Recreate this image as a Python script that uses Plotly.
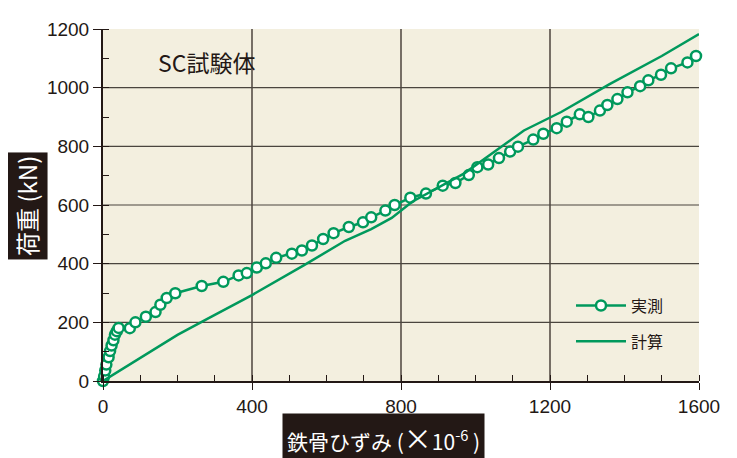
import plotly.graph_objects as go

# ---- data ----
meas_x = [0, 3, 6, 9, 15, 19, 23, 28, 32, 37, 42, 72, 87, 115, 141, 154, 171, 194, 265, 323,
          364, 386, 413, 437, 465, 507, 534, 561, 591, 619, 660, 698, 720, 758, 783, 825,
          867, 912, 946, 982, 1005, 1034, 1063, 1093, 1114, 1155, 1182, 1218, 1245, 1280,
          1303, 1334, 1354, 1381, 1408, 1442, 1464, 1498, 1525, 1569, 1592]
meas_y = [0, 16, 36, 56, 81, 102, 121, 139, 158, 170, 181, 180, 200, 219, 235, 260, 283, 299, 324, 338,
          360, 368, 387, 401, 420, 434, 445, 462, 484, 504, 525, 541, 558, 581, 600, 625,
          639, 666, 675, 702, 729, 738, 760, 782, 799, 823, 843, 862, 884, 909,
          900, 922, 941, 961, 984, 1005, 1025, 1044, 1066, 1086, 1108]

calc_x = [0, 200, 280, 400, 540, 650, 720, 775, 830, 900, 970, 1060, 1130, 1230, 1360, 1500, 1600]
calc_y = [0, 157, 212, 293, 395, 478, 518, 556, 611, 660, 708, 790, 854, 917, 1012, 1108, 1183]

x_ticks = [0, 400, 800, 1200, 1600]
y_ticks = [0, 200, 400, 600, 800, 1000, 1200]
x_grid = [400, 800, 1200]
y_grid = [200, 400, 600, 800, 1000]

GREEN = "#00995c"
DARK = "#231815"
BG = "#f3efdf"
NUM_FONT = "Liberation Sans, Arial, sans-serif"
JP_FONT = "Noto Sans CJK JP, sans-serif"

# page body has an 8px margin; compensate so the plot lands where the reference has it
PW, PH = 596, 362

fig = go.Figure()
fig.add_trace(go.Scatter(
    x=meas_x, y=meas_y, name="実測", mode="lines+markers",
    line=dict(color=GREEN, width=2.5),
    marker=dict(symbol="circle", size=10, color="white", line=dict(color=GREEN, width=2.5)),
    cliponaxis=False, legendgroup="a"))
fig.add_trace(go.Scatter(
    x=calc_x, y=calc_y, name="計算", mode="lines",
    line=dict(color=GREEN, width=2.5), legendgroup="b"))

shapes = []
for gx in x_grid:
    shapes.append(dict(type="line", xref="x", yref="paper", x0=gx, x1=gx, y0=0, y1=1,
                       line=dict(color=DARK, width=1.2), layer="below"))
for gy in y_grid:
    shapes.append(dict(type="line", xref="paper", yref="y", x0=0, x1=1, y0=gy, y1=gy,
                       line=dict(color="#4a453e", width=1.2), layer="below"))

fig.update_layout(
    width=729, height=450,
    margin=dict(l=95, r=38, t=11, b=77),
    paper_bgcolor="white", plot_bgcolor=BG,
    shapes=shapes,
    showlegend=True,
    legend=dict(x=(571-103)/PW, y=(381-286)/PH, xanchor="left", yanchor="top",
                bgcolor="rgba(0,0,0,0)", borderwidth=0,
                font=dict(family=JP_FONT, size=16, color=DARK),
                itemwidth=50, tracegroupgap=12, traceorder="grouped"),
    xaxis=dict(range=[0, 1600], tickvals=x_ticks, showgrid=False, zeroline=False,
               showline=True, linecolor=DARK, linewidth=2,
               ticks="outside", ticklen=7, tickwidth=1.2, tickcolor=DARK,
               tickfont=dict(family=NUM_FONT, size=19, color=DARK),
               minor=dict(dtick=100, ticks="inside", ticklen=6, tickwidth=1, tickcolor=DARK, showgrid=False)),
    yaxis=dict(range=[0, 1200], tickvals=y_ticks, showgrid=False, zeroline=False,
               showline=True, linecolor=DARK, linewidth=2,
               ticks="outside", ticklen=8, tickwidth=1.2, tickcolor=DARK,
               tickfont=dict(family=NUM_FONT, size=19, color=DARK),
               minor=dict(dtick=100, ticks="inside", ticklen=6, tickwidth=1, tickcolor=DARK, showgrid=False)),
    annotations=[
        dict(text="SC試験体", xref="paper", yref="paper", x=(156-103)/PW, y=(381-53)/PH,
             xanchor="left", yanchor="middle", showarrow=False,
             font=dict(family=JP_FONT, size=23, color=DARK)),
        dict(text="荷重 (kN)", xref="paper", yref="paper", x=(26.5-103)/PW, y=(381-201.5)/PH,
             xanchor="center", yanchor="middle", showarrow=False, textangle=-90,
             bgcolor=DARK, borderpad=3,
             font=dict(family=JP_FONT, size=24, color="white")),
        dict(text="鉄骨ひずみ&nbsp;(<span style='font-size:28px'>×</span>10<sup>-6</sup>&nbsp;)",
             xref="paper", yref="paper",
             x=(383-103)/PW, y=-(440-381)/PH,
             xanchor="center", yanchor="middle", showarrow=False,
             bgcolor=DARK, borderpad=4,
             font=dict(family=JP_FONT, size=21, color="white")),
    ],
)

fig.write_html("out.html")
